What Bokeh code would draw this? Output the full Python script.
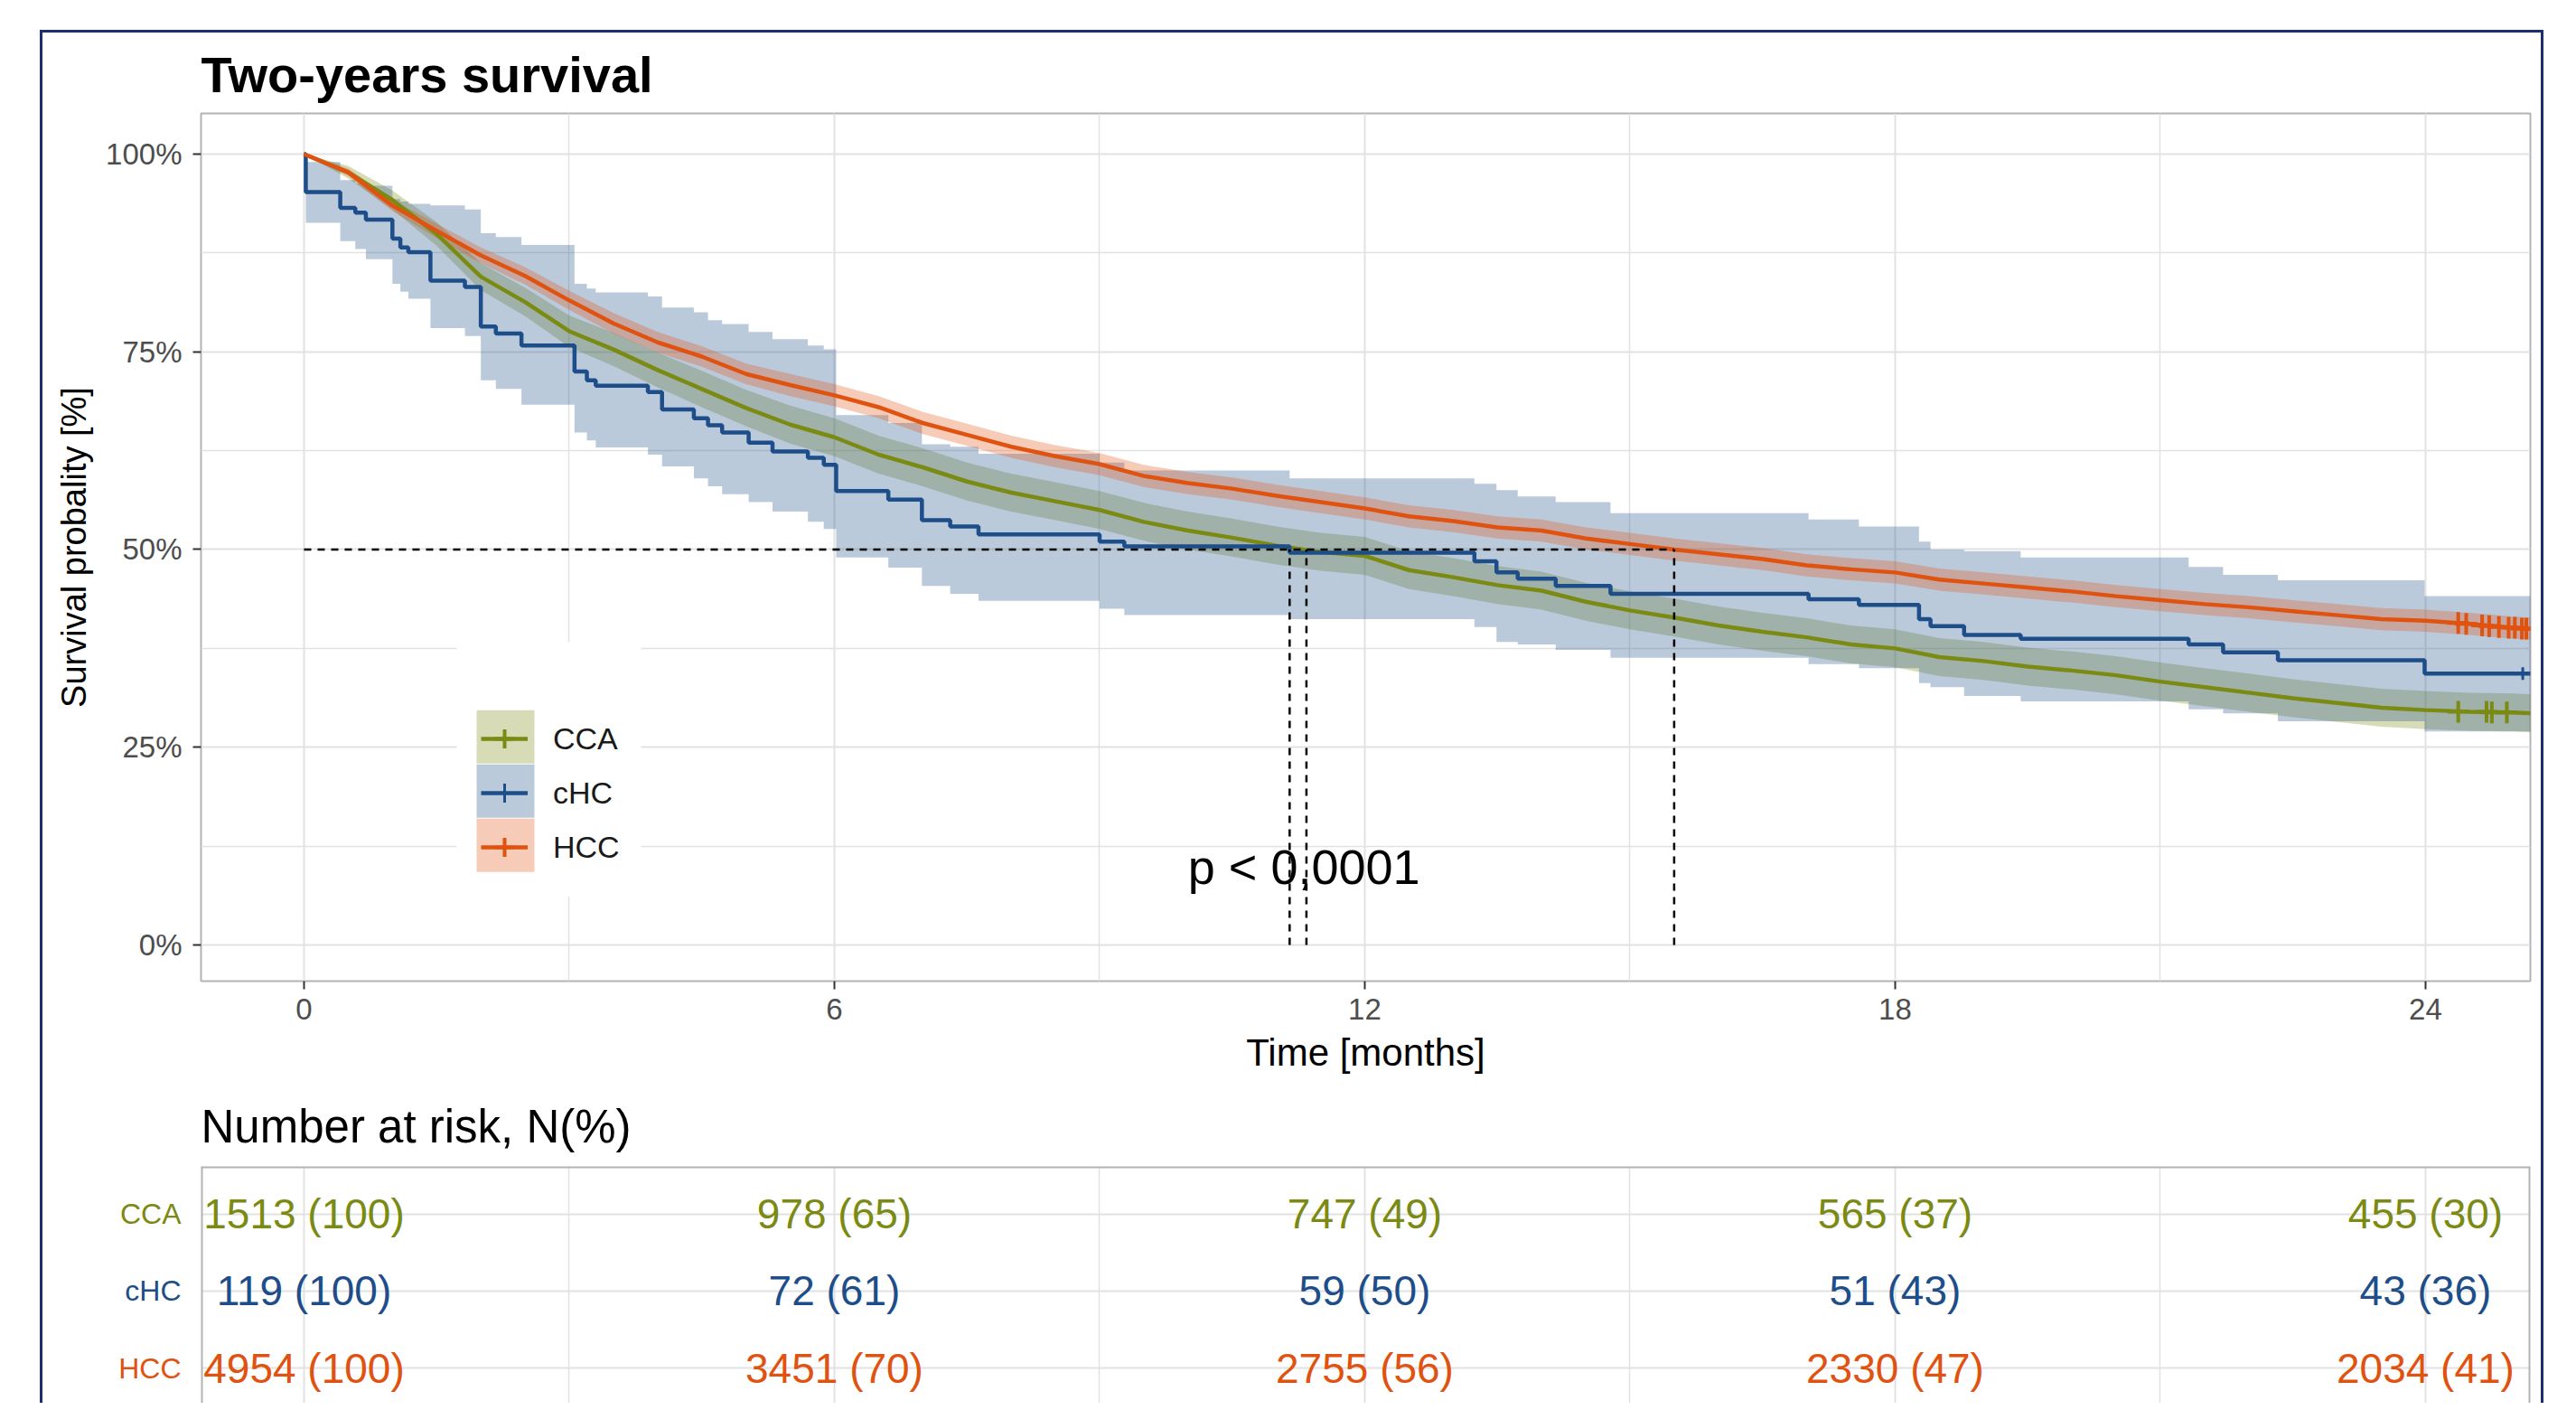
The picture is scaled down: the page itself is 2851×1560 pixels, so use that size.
from bokeh.plotting import figure
from bokeh.models import (FixedTicker, NumeralTickFormatter, Legend, LegendItem,
                          Range1d, Spacer, Span)
from bokeh.layouts import column, row
from bokeh.embed import file_html
from bokeh.resources import INLINE
from bokeh.core.properties import value

FONT = "Liberation Sans"

# ---------------- data ----------------
groups = ["CCA", "cHC", "HCC"]
group_colors = ["#7A8A12", "#1D4E89", "#E0520F"]

# CCA and HCC survival read every half month
grid_t = [0, 0.5, 1, 1.5, 2, 2.5, 3, 3.5, 4, 4.5, 5, 5.5, 6, 6.5, 7, 7.5, 8, 8.5, 9, 9.5,
          10, 10.5, 11, 11.5, 12, 12.5, 13, 13.5, 14, 14.5, 15, 15.5, 16, 16.5, 17, 17.5,
          18, 18.5, 19, 19.5, 20, 20.5, 21, 21.5, 22, 22.5, 23, 23.5, 24, 24.5, 25, 25.19]

cca_surv = [1.0, 0.977, 0.942, 0.899, 0.845, 0.813, 0.776, 0.753, 0.727, 0.703, 0.679, 0.658,
            0.642, 0.620, 0.604, 0.586, 0.572, 0.561, 0.550, 0.535, 0.524, 0.515, 0.505, 0.497,
            0.492, 0.474, 0.465, 0.455, 0.448, 0.434, 0.423, 0.414, 0.404, 0.396, 0.389, 0.380,
            0.375, 0.364, 0.359, 0.352, 0.347, 0.341, 0.333, 0.326, 0.319, 0.312, 0.306, 0.300,
            0.297, 0.295, 0.294, 0.293]
cca_lo = [1.0, 0.969, 0.930, 0.884, 0.828, 0.795, 0.756, 0.732, 0.705, 0.680, 0.656, 0.634,
          0.618, 0.596, 0.580, 0.562, 0.548, 0.537, 0.526, 0.511, 0.500, 0.491, 0.481, 0.473,
          0.468, 0.450, 0.441, 0.431, 0.424, 0.410, 0.399, 0.390, 0.380, 0.372, 0.365, 0.356,
          0.351, 0.340, 0.335, 0.328, 0.323, 0.317, 0.309, 0.302, 0.295, 0.288, 0.282, 0.276,
          0.273, 0.271, 0.270, 0.269]
cca_hi = [1.0, 0.985, 0.954, 0.914, 0.862, 0.831, 0.796, 0.774, 0.749, 0.726, 0.702, 0.682,
          0.666, 0.644, 0.628, 0.610, 0.596, 0.585, 0.574, 0.559, 0.548, 0.539, 0.529, 0.521,
          0.516, 0.498, 0.489, 0.479, 0.472, 0.458, 0.447, 0.438, 0.428, 0.420, 0.413, 0.404,
          0.399, 0.388, 0.383, 0.376, 0.371, 0.365, 0.357, 0.350, 0.343, 0.336, 0.330, 0.324,
          0.321, 0.319, 0.318, 0.317]

hcc_surv = [1.0, 0.977, 0.935, 0.903, 0.872, 0.846, 0.815, 0.786, 0.762, 0.744, 0.722, 0.708,
            0.695, 0.680, 0.660, 0.645, 0.630, 0.618, 0.608, 0.593, 0.584, 0.577, 0.568, 0.560,
            0.552, 0.542, 0.536, 0.528, 0.524, 0.514, 0.507, 0.500, 0.494, 0.488, 0.480, 0.475,
            0.471, 0.462, 0.457, 0.452, 0.447, 0.441, 0.436, 0.431, 0.427, 0.422, 0.417, 0.412,
            0.410, 0.406, 0.401, 0.400]
hcc_lo = [1.0, 0.972, 0.928, 0.894, 0.862, 0.835, 0.803, 0.773, 0.749, 0.731, 0.709, 0.694,
          0.681, 0.666, 0.646, 0.631, 0.616, 0.604, 0.594, 0.579, 0.570, 0.563, 0.554, 0.546,
          0.538, 0.528, 0.522, 0.514, 0.510, 0.500, 0.493, 0.486, 0.480, 0.474, 0.466, 0.461,
          0.457, 0.448, 0.443, 0.438, 0.433, 0.427, 0.422, 0.417, 0.413, 0.408, 0.403, 0.398,
          0.396, 0.392, 0.387, 0.386]
hcc_hi = [1.0, 0.982, 0.942, 0.912, 0.882, 0.857, 0.827, 0.799, 0.775, 0.757, 0.735, 0.722,
          0.709, 0.694, 0.674, 0.659, 0.644, 0.632, 0.622, 0.607, 0.598, 0.591, 0.582, 0.574,
          0.566, 0.556, 0.550, 0.542, 0.538, 0.528, 0.521, 0.514, 0.508, 0.502, 0.494, 0.489,
          0.485, 0.476, 0.471, 0.466, 0.461, 0.455, 0.450, 0.445, 0.441, 0.436, 0.431, 0.426,
          0.424, 0.420, 0.415, 0.414]

# cHC Kaplan-Meier steps (value holds from each time until the next)
chc_t = [0, 0.02, 0.41, 0.58, 0.70, 1.00, 1.09, 1.18, 1.43, 1.82, 2.00, 2.17, 2.46, 3.06,
         3.20, 3.30, 3.89, 4.05, 4.41, 4.57, 4.73, 5.03, 5.30, 5.70, 5.88, 6.02, 6.61, 6.99,
         7.31, 7.63, 9.00, 9.28, 11.15, 13.24, 13.49, 13.73, 14.16, 14.78, 17.02, 17.59,
         18.27, 18.40, 18.78, 19.42, 21.32, 21.71, 22.33, 23.99, 25.19]
chc_surv = [1.0, 0.952, 0.932, 0.926, 0.917, 0.893, 0.882, 0.876, 0.840, 0.832, 0.782, 0.773,
            0.758, 0.725, 0.714, 0.707, 0.699, 0.677, 0.666, 0.657, 0.648, 0.635, 0.624, 0.616,
            0.607, 0.574, 0.563, 0.537, 0.529, 0.519, 0.510, 0.504, 0.496, 0.485, 0.471, 0.463,
            0.454, 0.444, 0.437, 0.430, 0.412, 0.403, 0.392, 0.387, 0.380, 0.370, 0.360, 0.343,
            0.343]
chc_lo = [1.0, 0.913, 0.890, 0.880, 0.867, 0.836, 0.826, 0.817, 0.780, 0.770, 0.714, 0.703,
          0.683, 0.648, 0.638, 0.629, 0.620, 0.605, 0.590, 0.580, 0.570, 0.560, 0.548, 0.535,
          0.526, 0.490, 0.477, 0.454, 0.444, 0.435, 0.425, 0.417, 0.412, 0.402, 0.383, 0.380,
          0.373, 0.363, 0.355, 0.350, 0.331, 0.326, 0.315, 0.308, 0.298, 0.293, 0.283, 0.270,
          0.270]
chc_hi = [1.0, 0.990, 0.967, 0.963, 0.960, 0.943, 0.940, 0.937, 0.935, 0.930, 0.900, 0.895,
          0.885, 0.836, 0.830, 0.825, 0.820, 0.806, 0.800, 0.790, 0.785, 0.775, 0.766, 0.758,
          0.753, 0.670, 0.660, 0.633, 0.630, 0.621, 0.610, 0.600, 0.590, 0.583, 0.575, 0.567,
          0.560, 0.546, 0.538, 0.529, 0.510, 0.500, 0.498, 0.490, 0.478, 0.468, 0.461, 0.441,
          0.441]

# censoring marks
cca_cens_t = [24.37, 24.69, 24.75, 24.92]
cca_cens_s = [0.295, 0.295, 0.294, 0.294]
chc_cens_t = [25.10]
chc_cens_s = [0.343]
hcc_cens_t = [24.37, 24.46, 24.64, 24.72, 24.83, 24.94, 25.01, 25.09, 25.14]
hcc_cens_s = [0.407, 0.406, 0.404, 0.403, 0.402, 0.401, 0.401, 0.400, 0.400]

# median survival times (CCA, cHC, HCC)
median_t = [11.15, 11.34, 15.5]
median_level = 0.5

pval_text = "p < 0,0001"

# number at risk table
risk_times = [0, 6, 12, 18, 24]
risk_n = {
    "CCA": [1513, 978, 747, 565, 455],
    "cHC": [119, 72, 59, 51, 43],
    "HCC": [4954, 3451, 2755, 2330, 2034],
}
risk_pct = {
    "CCA": [100, 65, 49, 37, 30],
    "cHC": [100, 61, 50, 43, 36],
    "HCC": [100, 70, 56, 47, 41],
}
risk_rows = {"CCA": 3, "cHC": 2, "HCC": 1}

x_major = [0, 6, 12, 18, 24]
x_minor = [3, 9, 15, 21]
y_major = [0, 0.25, 0.5, 0.75, 1.0]
y_minor = [0.125, 0.375, 0.625, 0.875]


def to_steps(t, *series):
    xs = [t[0]]
    outs = [[s[0]] for s in series]
    for i in range(1, len(t)):
        xs += [t[i], t[i]]
        for o, s in zip(outs, series):
            o += [s[i - 1], s[i]]
    return xs, outs


# ---------------- layout constants (pixels) ----------------
W = 2765
LEFT = 175
RIGHT = 12
TOP1, BOT1, H1 = 88, 115, 1164
XR = Range1d(-1.165, 25.186)
YR = Range1d(-0.0457, 1.0514)
FRAME_W = W - LEFT - RIGHT
FRAME_H = H1 - TOP1 - BOT1
PX_X = FRAME_W / (XR.end - XR.start)
PX_Y = FRAME_H / (YR.end - YR.start)
FX0 = 222           # page x of the frame's left edge
FY0 = 124           # page y of the frame's top edge


def dx(px):  # page pixel -> data x
    return XR.start + (px - FX0) / PX_X


def dy(py):  # page pixel -> data y
    return YR.end - (py - FY0) / PX_Y


GRID = "#E2E2E2"
BORDER = "#B3B3B3"

# ---------------- main plot ----------------
p1 = figure(width=W, height=H1, x_range=XR, y_range=YR,
            output_backend="svg", toolbar_location=None,
            min_border_left=LEFT, min_border_right=RIGHT, min_border_top=TOP1,
            min_border_bottom=BOT1, title="Two-years survival")
p1.title.text_font = FONT
p1.title.text_font_size = "56px"
p1.title.text_font_style = "bold"
p1.title.text_color = "#000000"
p1.title.align = "left"
p1.title.standoff = 24
p1.outline_line_color = BORDER
p1.outline_line_width = 2
p1.background_fill_color = "white"
p1.border_fill_color = "white"

p1.xaxis.ticker = FixedTicker(ticks=x_major, minor_ticks=x_minor)
p1.yaxis.ticker = FixedTicker(ticks=y_major, minor_ticks=y_minor)
p1.yaxis.formatter = NumeralTickFormatter(format="0%")
for ax in (p1.xaxis, p1.yaxis):
    ax.axis_line_color = None
    ax.major_tick_line_color = "#333333"
    ax.major_tick_line_width = 2
    ax.major_tick_out = 9
    ax.major_tick_in = 0
    ax.minor_tick_line_color = None
    ax.major_label_text_font = FONT
    ax.major_label_text_font_size = "33px"
    ax.major_label_text_color = "#4D4D4D"
    ax.axis_label_text_font = FONT
    ax.axis_label_text_font_style = "normal"
    ax.axis_label_text_color = "#000000"
p1.xaxis.axis_label = "Time [months]"
p1.yaxis.axis_label = "Survival probality [%]"
p1.xaxis.axis_label_text_font_size = "42px"
p1.yaxis.axis_label_text_font_size = "38px"
p1.xaxis.major_label_standoff = 10
p1.xaxis.axis_label_standoff = 10
p1.yaxis.major_label_standoff = 12
p1.yaxis.axis_label_standoff = 11

for g in (p1.xgrid, p1.ygrid):
    g.grid_line_color = GRID
    g.grid_line_width = 2
    g.minor_grid_line_color = GRID
    g.minor_grid_line_width = 1.5

# confidence bands
p1.varea(x=grid_t, y1=cca_lo, y2=cca_hi, fill_color=group_colors[0], fill_alpha=0.3)
cx, (clo, chi) = to_steps(chc_t, chc_lo, chc_hi)
p1.varea(x=cx, y1=clo, y2=chi, fill_color=group_colors[1], fill_alpha=0.3)
p1.varea(x=grid_t, y1=hcc_lo, y2=hcc_hi, fill_color=group_colors[2], fill_alpha=0.3)

# survival curves
LW = 4.5
l_cca = p1.line(grid_t, cca_surv, line_color=group_colors[0], line_width=LW)
sx, (ss,) = to_steps(chc_t, chc_surv)
l_chc = p1.line(sx, ss, line_color=group_colors[1], line_width=LW)
l_hcc = p1.line(grid_t, hcc_surv, line_color=group_colors[2], line_width=LW)

# censor marks
m_cca = p1.scatter(cca_cens_t, cca_cens_s, marker="cross", size=24, line_color=group_colors[0], line_width=4)
m_chc = p1.scatter(chc_cens_t, chc_cens_s, marker="cross", size=14, line_color=group_colors[1], line_width=3)
m_hcc = p1.scatter(hcc_cens_t, hcc_cens_s, marker="cross", size=24, line_color=group_colors[2], line_width=4)

# median lines
p1.segment(x0=[0], y0=[median_level], x1=[max(median_t)], y1=[median_level],
           line_color="black", line_width=2.5, line_dash="8 7")
p1.segment(x0=median_t, y0=[0] * len(median_t), x1=median_t, y1=[median_level] * len(median_t),
           line_color="black", line_width=2.5, line_dash="8 7")

# p-value
p1.text(x=[10.0], y=[0.099], text=[pval_text], text_font=value(FONT), text_font_size="54px",
        text_color="#000000", text_align="left", text_baseline="middle")

# legend: white background + key boxes, then a Legend for lines / marks / labels
p1.quad(left=[dx(505)], right=[dx(709)], top=[dy(709)], bottom=[dy(991)],
        fill_color="white", line_color=None)
box_tops = [785, 845, 905]
p1.quad(left=[dx(527)] * 3, right=[dx(591)] * 3,
        top=[dy(t) for t in box_tops], bottom=[dy(t + 59) for t in box_tops],
        fill_color=group_colors, fill_alpha=0.3, line_color=None)

items = [LegendItem(label=g, renderers=[ln, mk])
         for g, ln, mk in zip(groups, [l_cca, l_chc, l_hcc], [m_cca, m_chc, m_hcc])]
legend = Legend(items=items, location=(310, 118),
                glyph_width=52, glyph_height=60, spacing=0, padding=10, margin=0,
                label_standoff=28, label_text_font=FONT, label_text_font_size="34px",
                label_text_color="#1A1A1A", border_line_color=None,
                background_fill_alpha=0.0)
p1.add_layout(legend, "center")

# ---------------- risk table ----------------
TOP2, H2 = 89, 352
YR2 = Range1d(0.544, 3.62)

p2 = figure(width=W - LEFT, height=H2, x_range=XR, y_range=YR2,
            output_backend="svg", toolbar_location=None,
            min_border_left=0, min_border_right=RIGHT, min_border_top=TOP2,
            min_border_bottom=0, title="Number at risk, N(%)")
p2.title.text_font = FONT
p2.title.text_font_size = "51px"
p2.title.text_font_style = "normal"
p2.title.text_color = "#000000"
p2.title.align = "left"
p2.title.standoff = 31
p2.outline_line_color = None
p2.xaxis.visible = False
p2.yaxis.visible = False
p2.xgrid.ticker = FixedTicker(ticks=x_major, minor_ticks=x_minor)
p2.ygrid.ticker = FixedTicker(ticks=[1, 2, 3])
for g in (p2.xgrid, p2.ygrid):
    g.grid_line_color = GRID
    g.grid_line_width = 2
p2.xgrid.minor_grid_line_color = GRID
p2.xgrid.minor_grid_line_width = 1.5
# panel border on the visible sides only (the panel continues below the page)
for loc, dim in ((XR.start, "height"), (XR.end, "height"), (YR2.end, "width")):
    p2.add_layout(Span(location=loc, dimension=dim, line_color=BORDER, line_width=4))

# row labels live in a narrow companion figure sharing the y range
pl = figure(width=LEFT, height=H2, x_range=Range1d(0, LEFT), y_range=YR2,
            output_backend="svg", toolbar_location=None,
            min_border_left=0, min_border_right=0, min_border_top=TOP2,
            min_border_bottom=0)
pl.axis.visible = False
pl.grid.visible = False
pl.outline_line_color = None

for g, c in zip(groups, group_colors):
    y = risk_rows[g]
    txt = [f"{n} ({pc})" for n, pc in zip(risk_n[g], risk_pct[g])]
    p2.text(x=risk_times, y=[y] * len(risk_times), text=txt, text_font=value(FONT),
            text_font_size="46px", text_color=c, text_align="center", text_baseline="middle")
    pl.text(x=[LEFT - 22], y=[y], text=[g], text_font=value(FONT), text_font_size="32px",
            text_color=c, text_align="right", text_baseline="middle")

NAVY = "3px solid #1B2F6E"
framed = column(p1, row(pl, p2),
                styles={"border-top": NAVY, "border-left": NAVY, "border-right": NAVY})
layout = column(Spacer(height=33), row(Spacer(width=44), framed))

with open("out.html", "w") as f:
    f.write(file_html(layout, INLINE))
